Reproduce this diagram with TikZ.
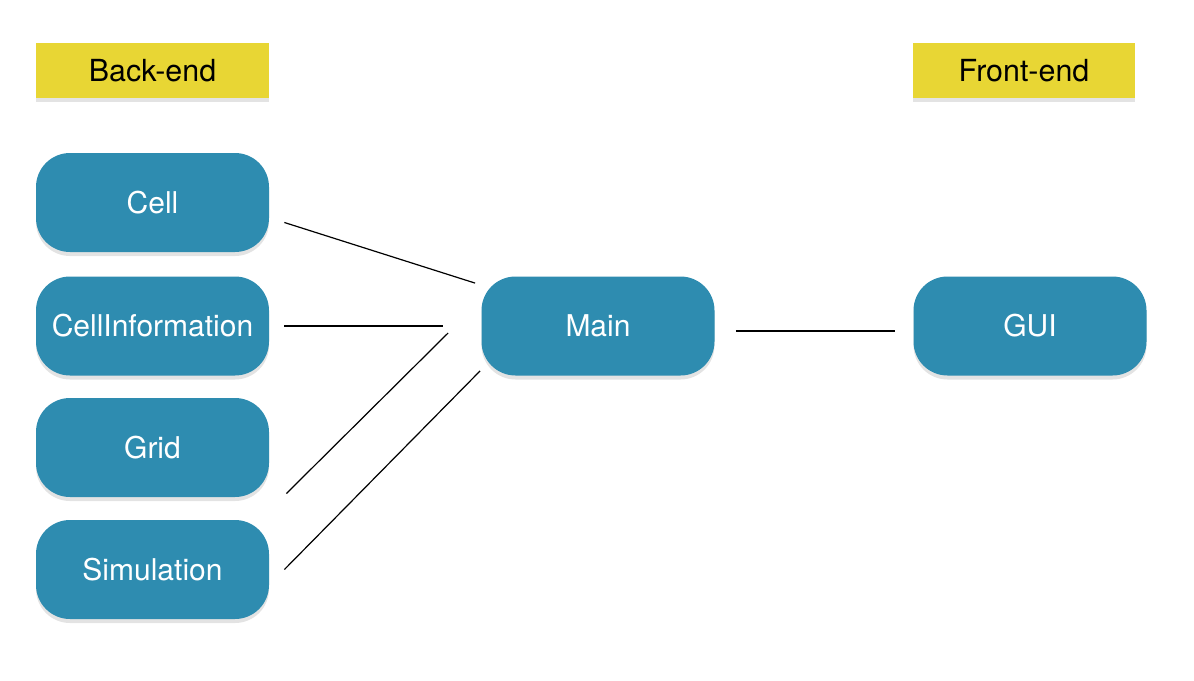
\documentclass[tikz,border=0pt]{standalone}
\usepackage{fontspec}
\setmainfont{TeX Gyre Heros}
\usetikzlibrary{shadows}
\definecolor{tileblue}{RGB}{46,140,176}
\definecolor{noteyellow}{RGB}{232,214,52}
\tikzset{
  module/.style={fill=tileblue, rounded corners=17pt, minimum width=116.5pt,
    minimum height=49.5pt, text=white, font=\fontsize{15}{18}\selectfont,
    drop shadow={shadow xshift=0pt, shadow yshift=-2pt, opacity=0.22}},
  tag/.style={fill=noteyellow, minimum height=27.5pt,
    font=\fontsize{15.2}{18}\selectfont,
    drop shadow={shadow xshift=0pt, shadow yshift=-2pt, opacity=0.22}},
  link/.style={draw=black, line width=0.6pt}
}
\begin{document}
\begin{tikzpicture}[x=0.5pt, y=-0.5pt]
  \useasboundingbox (0,0) rectangle (1194,680);
  % group labels
  \node[tag, minimum width=116.5pt] (back)  at (152.5,70.5) {Back-end};
  \node[tag, minimum width=111pt]   (front) at (1024,70.5)  {Front-end};
  % modules
  \node[module] (cell)     at (152.5,202.5) {Cell};
  \node[module] (cellinfo) at (152.5,326)   {CellInformation};
  \node[module] (grid)     at (152.5,447.5) {Grid};
  \node[module] (sim)      at (152.5,569.5) {Simulation};
  \node[module] (main)     at (598,326)     {Main};
  \node[module] (gui)      at (1030,326)    {GUI};

  \path[link]
    ([xshift=7.5pt, yshift=-10pt]cell.east) edge ([xshift=-3pt, yshift=-3.5pt]main.north west)
    ([xshift=7.5pt]cellinfo.east)           edge ([xshift=-19pt]main.west)
    ([xshift=8.5pt, yshift=-23pt]grid.east) edge ([xshift=-16.5pt, yshift=-3.5pt]main.west)
    ([xshift=7.5pt]sim.east)                edge ([xshift=-0.5pt, yshift=2.5pt]main.south west);

  \path[link]
    ([xshift=10.5pt, yshift=-2.5pt]main.east) edge ([xshift=-9pt, yshift=-2.5pt]gui.west);
\end{tikzpicture}
\end{document}
